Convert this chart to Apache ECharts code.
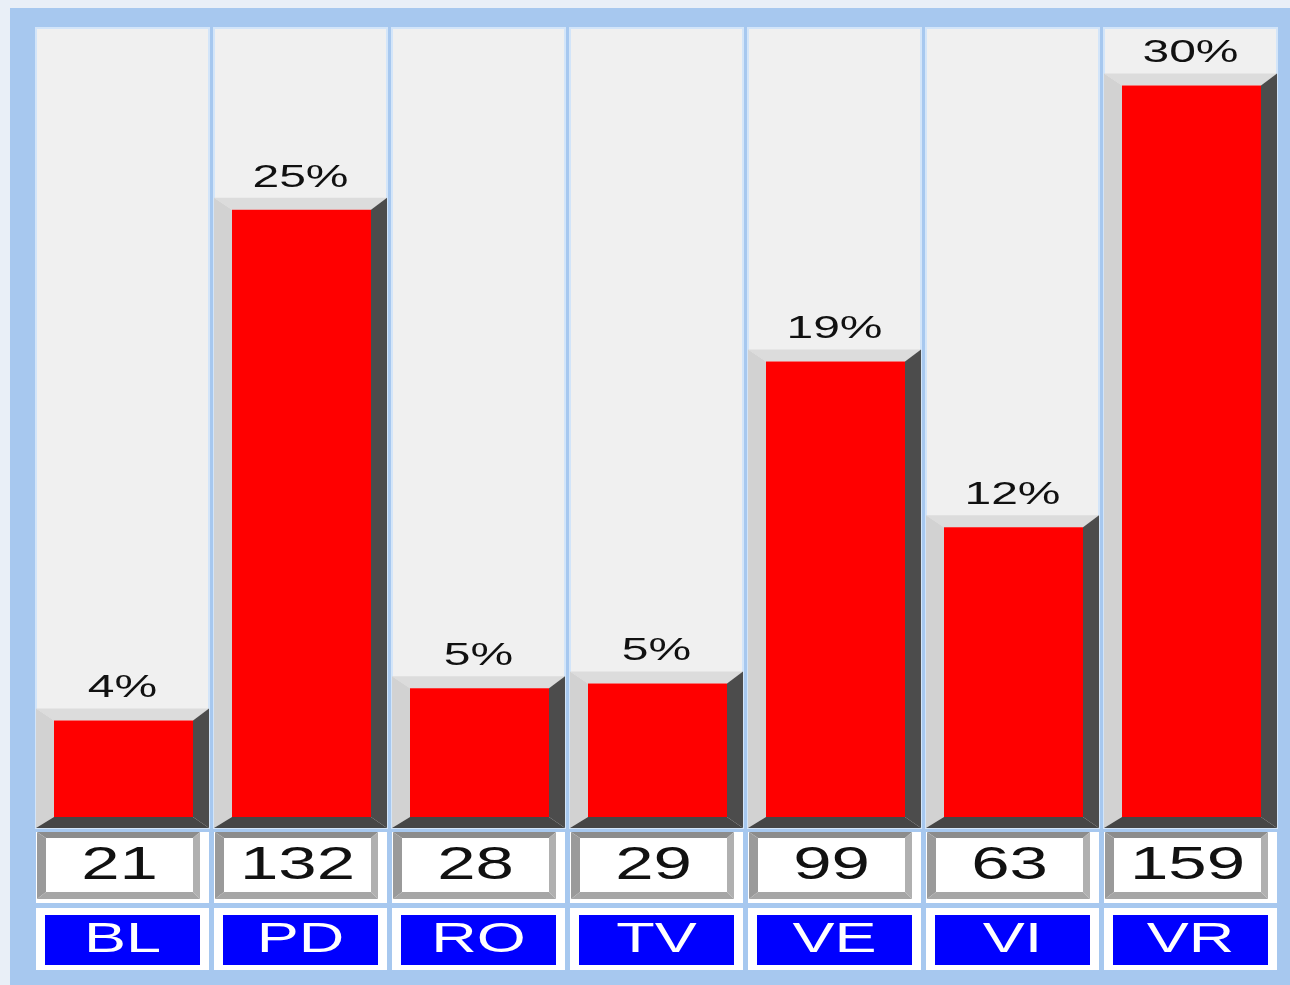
<!DOCTYPE html>
<html>
<head>
<meta charset="utf-8">
<script src="https://cdn.jsdelivr.net/npm/echarts@6/dist/echarts.min.js"></script>
<style>
  html, body { margin: 0; padding: 0; background: #e9eff7; }
  #chart { width: 1290px; height: 985px; }
</style>
</head>
<body>
<div id="chart"></div>
<script>
  // province codes
  const categories = ['BL', 'PD', 'RO', 'TV', 'VE', 'VI', 'VR']
  // counts shown in the white boxes (bar heights)
  const counts = [21, 132, 28, 29, 99, 63, 159]
  // percent labels above the bars
  const percents = [4, 25, 5, 5, 19, 12, 30]

  const FONT = '"Liberation Sans", Arial, sans-serif'

  function renderColumn (params, api) {
    const i = api.value(0)
    const v = api.value(1)
    const top = api.coord([i, v])
    const base = api.coord([i, 0])[1]
    const band = api.size([1, 0])[0]
    const cx = top[0]
    const colW = band - 5
    const x0 = cx - colW / 2
    const x1 = cx + colW / 2
    const rT = top[1]
    const oT = rT - 12
    const oB = base + 11
    const gridTop = params.coordSys.y
    const poly = (pts, fill) => ({ type: 'polygon', shape: { points: pts }, style: { fill: fill } })
    const txt = (x, y, text, size, fill) => ({
      type: 'text', x: x, y: y, scaleX: 1.5,
      style: { text: text, fontSize: size, fontFamily: FONT, fill: fill, align: 'center', verticalAlign: 'middle' }
    })

    // count box geometry
    const bx0 = x0 + 1, bx1 = x1 - 9, by0 = base + 15, by1 = base + 82
    const ix0 = x0 + 10, ix1 = x1 - 16, iy0 = base + 21, iy1 = base + 75

    return {
      type: 'group',
      children: [
        // column background
        { type: 'rect', shape: { x: x0, y: gridTop - 7, width: colW, height: oB - gridTop + 7 },
          style: { fill: '#f0f0f0', stroke: '#d3e5f9', lineWidth: 2 } },
        // 3d bar frame
        poly([[x0, oT], [x1, oT], [x1 - 16, rT], [x0 + 18, rT]], '#dcdcdc'),
        poly([[x0, oT], [x0 + 18, rT], [x0 + 18, base], [x0, oB]], '#d2d2d2'),
        poly([[x1, oT], [x1, oB], [x1 - 16, base], [x1 - 16, rT]], '#4c4c4c'),
        poly([[x0, oB], [x1, oB], [x1 - 16, base], [x0 + 18, base]], '#464646'),
        { type: 'rect', shape: { x: x0 + 18, y: rT, width: colW - 34, height: base - rT }, style: { fill: '#ff0000' } },
        txt(cx, oT - 20, percents[i] + '%', 32, '#111111'),
        // white cells behind count and label
        { type: 'rect', shape: { x: x0, y: by0, width: colW, height: 71 }, style: { fill: '#ffffff' } },
        { type: 'rect', shape: { x: x0, y: base + 91, width: colW, height: 62 }, style: { fill: '#ffffff' } },
        // count box bevel
        poly([[bx0, by0], [bx1, by0], [ix1, iy0], [ix0, iy0]], '#8c8c8c'),
        poly([[bx0, by0], [ix0, iy0], [ix0, iy1], [bx0, by1]], '#9a9a9a'),
        poly([[bx1, by0], [bx1, by1], [ix1, iy1], [ix1, iy0]], '#b0b0b0'),
        poly([[bx0, by1], [bx1, by1], [ix1, iy1], [ix0, iy1]], '#a6a6a6'),
        { type: 'rect', shape: { x: ix0, y: iy0, width: ix1 - ix0, height: iy1 - iy0 }, style: { fill: '#ffffff' } },
        txt((bx0 + bx1) / 2 + 1, (by0 + by1) / 2 + 1, String(counts[i]), 46, '#111111'),
        // blue label box
        { type: 'rect', shape: { x: x0 + 9, y: base + 98, width: colW - 18, height: 50 }, style: { fill: '#0000ff' } },
        txt(cx, base + 123, categories[i], 42, '#ffffff')
      ]
    }
  }

  const chart = echarts.init(document.getElementById('chart'))
  const options = {
    animation: false,
    graphic: [
      { type: 'rect', z: -10, shape: { x: 10, y: 8, width: 1280, height: 977 }, style: { fill: '#a7c8ef' } }
    ],
    grid: { left: 33.5, right: 10.5, top: 35, bottom: 168 },
    xAxis: { type: 'category', data: categories, show: false },
    yAxis: { type: 'value', min: 0, max: 170, show: false },
    series: [
      {
        type: 'custom',
        clip: false,
        renderItem: renderColumn,
        data: counts.map((v, i) => [i, v])
      }
    ]
  }
  chart.setOption(options)
</script>
</body>
</html>
